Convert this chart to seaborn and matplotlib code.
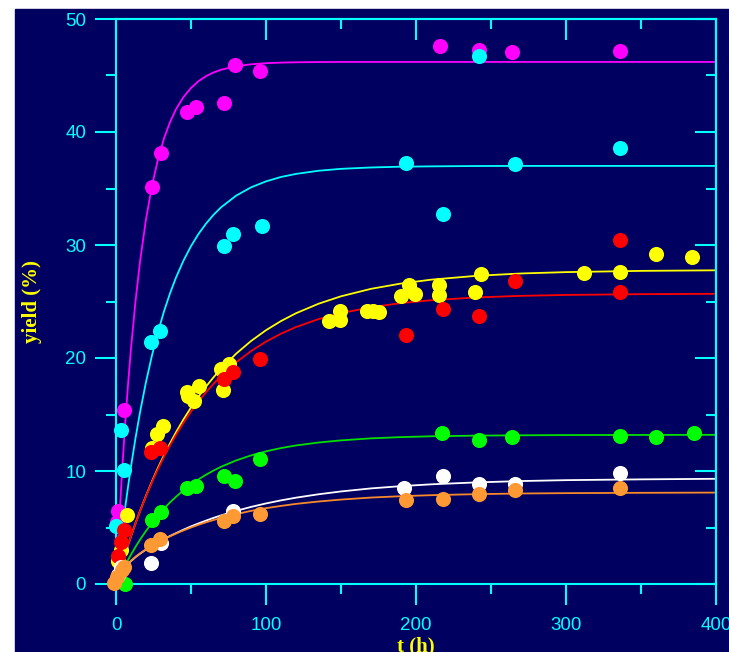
"""Product yield vs reaction time, seven runs with first-order fits."""
import matplotlib
matplotlib.use("Agg")
import matplotlib.pyplot as plt
import pandas as pd
import seaborn as sns
from matplotlib.patches import Rectangle
from matplotlib.ticker import MultipleLocator

NAVY = "#000060"
CYAN = "#00FFFF"
YELLOW = "#FFFF00"

# measured points (t in h, yield in %)
magenta_t = [1.6, 0.5, 5, 24, 30, 47, 53, 72, 79, 96, 216, 242, 264, 336]
magenta_y = [6.5, 5.5, 15.4, 35.1, 38.1, 41.8, 42.2, 42.6, 45.9, 45.4, 47.6, 47.3, 47.1, 47.2]

cyan_t = [3, 5, 0, 23, 29, 72, 78, 97, 193, 218, 242, 266, 336]
cyan_y = [13.6, 10.1, 5.1, 21.4, 22.4, 29.9, 31.0, 31.7, 37.3, 32.7, 46.7, 37.2, 38.6]

yellow_t = [1, 3, 7, 24, 27, 31, 47, 55, 52, 48, 71, 70, 75,
            142, 149, 149, 167, 171, 175, 190, 195, 199, 215, 215, 239, 243,
            312, 336, 360, 384]
yellow_y = [2.0, 3.0, 6.1, 12.0, 13.3, 14.0, 17.0, 17.5, 16.2, 16.6, 17.2, 19.0, 19.5,
            23.3, 24.2, 23.4, 24.2, 24.2, 24.1, 25.5, 26.5, 25.7, 26.5, 25.6, 25.8, 27.4,
            27.5, 27.6, 29.2, 28.9]

red_t = [1, 3, 5, 23, 29, 72, 78, 96, 193, 218, 242, 266, 336, 336]
red_y = [2.5, 3.7, 4.8, 11.7, 12.0, 18.1, 18.8, 19.9, 22.0, 24.3, 23.7, 26.8, 30.4, 25.8]

green_t = [6, 24, 30, 47, 53, 72, 79, 96, 217, 242, 264, 336, 360, 385]
green_y = [0.0, 5.7, 6.4, 8.5, 8.7, 9.6, 9.1, 11.1, 13.4, 12.7, 13.0, 13.1, 13.0, 13.4]

white_t = [1, 3, 23, 30, 78, 192, 218, 242, 266, 336]
white_y = [0.8, 1.5, 1.9, 3.6, 6.5, 8.5, 9.6, 8.85, 8.85, 9.85]

orange_t = [-1.5, 0.5, 3.8, 5, 23, 29, 72, 78, 96, 193, 218, 242, 266, 336]
orange_y = [0.1, 0.6, 1.2, 1.5, 3.45, 3.95, 5.6, 6.0, 6.2, 7.4, 7.5, 8.0, 8.3, 8.5]

# fitted curves at these times
curve_t = [0, 2, 4, 6, 8, 10, 13, 16, 20, 24, 28, 32, 36, 40, 45, 50, 55, 60,
           65, 70, 80, 90, 100, 110, 120, 135, 150, 170, 190, 210, 240, 270,
           300, 350, 400]
magenta_fit = [0, 5.23, 9.86, 13.97, 17.61, 20.85, 25.02, 28.51, 32.28, 35.26,
               37.59, 39.43, 40.87, 42.01, 43.10, 43.90, 44.50, 44.94, 45.27,
               45.51, 45.82, 45.99, 46.09, 46.14, 46.17, 46.19, 46.2, 46.2, 46.2,
               46.2, 46.2, 46.2, 46.2, 46.2, 46.2]
cyan_fit = [0, 2.36, 4.58, 6.65, 8.58, 10.40, 12.91, 15.18, 17.88, 20.24, 22.31,
            24.13, 25.72, 27.12, 28.62, 29.90, 30.98, 31.89, 32.67, 33.33, 34.36,
            35.10, 35.63, 36.02, 36.29, 36.57, 36.74, 36.86, 36.93, 36.96, 36.99,
            37.0, 37.0, 37.0, 37.0]
yellow_fit = [0, 0.90, 1.78, 2.62, 3.44, 4.23, 5.37, 6.45, 7.81, 9.09, 10.29,
              11.40, 12.45, 13.43, 14.57, 15.62, 16.58, 17.47, 18.29, 19.04, 20.37,
              21.50, 22.46, 23.27, 23.96, 24.80, 25.46, 26.12, 26.59, 26.93, 27.27,
              27.48, 27.60, 27.71, 27.76]
red_fit = [0, 0.91, 1.79, 2.63, 3.45, 4.23, 5.36, 6.43, 7.77, 9.02, 10.17,
           11.25, 12.26, 13.19, 14.27, 15.25, 16.15, 16.97, 17.72, 18.41, 19.61,
           20.61, 21.45, 22.15, 22.74, 23.44, 23.97, 24.49, 24.86, 25.11, 25.36,
           25.50, 25.58, 25.65, 25.68]
green_fit = [0, 0.57, 1.11, 1.63, 2.13, 2.61, 3.28, 3.92, 4.70, 5.41, 6.07,
             6.67, 7.22, 7.72, 8.29, 8.81, 9.26, 9.67, 10.04, 10.37, 10.93,
             11.38, 11.74, 12.03, 12.26, 12.52, 12.71, 12.89, 13.00, 13.07, 13.13,
             13.16, 13.18, 13.19, 13.2]
white_fit = [0, 0.61, 1.07, 1.45, 1.77, 2.03, 2.38, 2.68, 3.05, 3.37, 3.69,
             3.97, 4.25, 4.50, 4.81, 5.10, 5.36, 5.61, 5.85, 6.07, 6.47,
             6.82, 7.13, 7.40, 7.64, 7.94, 8.19, 8.46, 8.66, 8.82, 8.99,
             9.11, 9.19, 9.26, 9.31]
orange_fit = [0, 0.62, 1.09, 1.47, 1.79, 2.06, 2.41, 2.71, 3.07, 3.39, 3.69,
              3.96, 4.22, 4.46, 4.74, 5.00, 5.24, 5.46, 5.66, 5.85, 6.18,
              6.47, 6.71, 6.91, 7.09, 7.30, 7.47, 7.65, 7.77, 7.86, 7.95,
              8.01, 8.04, 8.07, 8.09]

SERIES = [
    ("magenta", magenta_t, magenta_y, magenta_fit, "#FF00FF", "#FF00FF"),
    ("cyan", cyan_t, cyan_y, cyan_fit, "#00FFFF", "#00FFFF"),
    ("yellow", yellow_t, yellow_y, yellow_fit, "#FFFF00", "#FFFF00"),
    ("red", red_t, red_y, red_fit, "#FF0000", "#FF0000"),
    ("green", green_t, green_y, green_fit, "#00FF00", "#00E000"),
    ("white", white_t, white_y, white_fit, "#FFFFFF", "#FFFFFF"),
    ("orange", orange_t, orange_y, orange_fit, "#FF9933", "#F7892A"),
]


def main():
    fig = plt.figure(figsize=(7.29, 6.52), dpi=100, facecolor="white")
    fig.patches.append(Rectangle((15 / 729, 0), 1 - 15 / 729, 1 - 9 / 652,
                                 transform=fig.transFigure, color=NAVY, zorder=-10))
    ax = fig.add_axes([116 / 729, 68 / 652, 600 / 729, 565 / 652])
    ax.set_zorder(1)
    ax.set_facecolor(NAVY)

    for name, t, y, fit, pcol, lcol in SERIES:
        sns.lineplot(x=curve_t, y=fit, color=lcol, lw=1.3, sort=False,
                     estimator=None, ax=ax, zorder=2)
    for name, t, y, fit, pcol, lcol in SERIES:
        pts = pd.DataFrame({"t": t, "y": y})
        sns.scatterplot(data=pts, x="t", y="y", color=pcol, s=118, linewidth=0,
                        ax=ax, zorder=3, clip_on=False)

    ax.set_xlim(0, 400)
    ax.set_ylim(0, 50)
    ax.xaxis.set_major_locator(MultipleLocator(100))
    ax.xaxis.set_minor_locator(MultipleLocator(50))
    ax.yaxis.set_major_locator(MultipleLocator(10))
    ax.yaxis.set_minor_locator(MultipleLocator(5))

    for s in ax.spines.values():
        s.set_color(CYAN)
        s.set_linewidth(1.5)
    ax.tick_params(which="both", direction="out", color=CYAN, width=1.5,
                   labelcolor=CYAN, labelsize=13.5)
    ax.tick_params(which="major", length=15)
    ax.tick_params(which="minor", length=7)
    ax.tick_params(axis="x", pad=9)
    ax.tick_params(axis="y", pad=6.5)
    for lab in ax.get_xticklabels() + ax.get_yticklabels():
        lab.set_family("Liberation Sans")

    # top and right ticks point inward
    top = ax.secondary_xaxis("top")
    top.xaxis.set_major_locator(MultipleLocator(100))
    top.xaxis.set_minor_locator(MultipleLocator(50))
    top.tick_params(which="both", direction="in", color=CYAN, width=1.5, labeltop=False)
    top.tick_params(which="major", length=15)
    top.tick_params(which="minor", length=7)
    right = ax.secondary_yaxis("right")
    right.yaxis.set_major_locator(MultipleLocator(10))
    right.yaxis.set_minor_locator(MultipleLocator(5))
    right.tick_params(which="both", direction="in", color=CYAN, width=1.5, labelright=False)
    right.tick_params(which="major", length=15)
    right.tick_params(which="minor", length=7)
    for sec in (top, right):
        for s in sec.spines.values():
            s.set_color(CYAN)
            s.set_linewidth(1.5)

    label_font = dict(family="Liberation Serif", weight="bold", size=15, color=YELLOW)
    ax.set_xlabel("t (h)", **label_font)
    ax.set_ylabel("yield (%)", **label_font)
    ax.xaxis.set_label_coords(0.5, -0.093)
    ax.yaxis.set_label_coords(-0.123, 0.5)

    fig.savefig("out.png", dpi=100, facecolor=fig.get_facecolor())
    plt.close(fig)


if __name__ == "__main__":
    main()
